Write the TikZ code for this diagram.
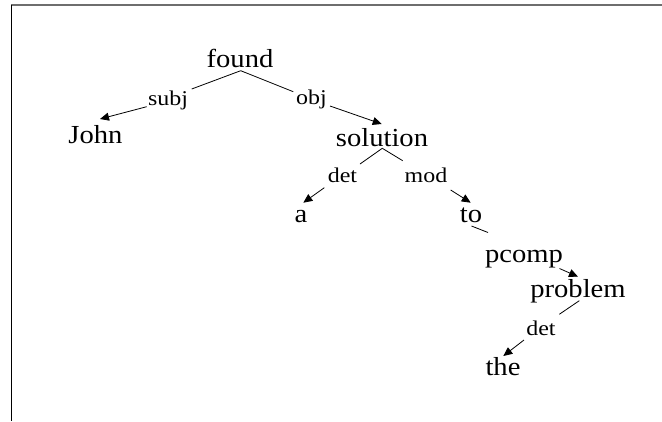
\documentclass[tikz,border=0pt]{standalone}
\usepackage{fontspec}
\newfontfamily\treefont[FakeStretch=1.1]{Liberation Serif}
\newfontfamily\relfont[FakeStretch=1.14]{Liberation Serif}
\usetikzlibrary{arrows.meta}
\definecolor{framegray}{RGB}{110,110,110}
\begin{document}
\begin{tikzpicture}[x=1pt,y=-1pt,
  word/.style={anchor=base,inner sep=0pt,font=\treefont\fontsize{26}{30}\selectfont},
  rel/.style={anchor=base,inner sep=0pt,font=\relfont\fontsize{21}{25}\selectfont},
  edge/.style={line width=0.8pt,black},
  arr/.style={edge,-{Triangle[length=9pt,width=8pt]}}]
\useasboundingbox (0,0) rectangle (662,421);
% frame
\draw[framegray,line width=1.5pt] (11,5) -- (662,5);
\draw[black,line width=1pt] (11.5,4.5) -- (11.5,421);
% words
\node[word] (found) at (240,67) {found};
\node[word] (john) at (95.5,143) {John};
\node[word] (solution) at (382,146) {solution};
\node[word] (a) at (301,222) {a};
\node[word] (to) at (471,222) {to};
\node[word] (problem) at (578,297) {problem};
\node[word] (the) at (503,375) {the};
% relation labels
\node[rel] (subj) at (168,105) {subj};
\node[rel] (obj) at (311.5,104) {obj};
\node[rel] (det1) at (342.5,182) {det};
\node[rel] (mod) at (426,182) {mod};
\node[word] (pcomp) at (524,262) {pcomp};
\node[rel] (det2) at (541,335) {det};
% connector end points
\coordinate (found-s) at (240.7,70.7);
\coordinate (subj-in) at (191.7,89);
\coordinate (subj-out) at (146.7,106.7);
\coordinate (john-t) at (100,119);
\coordinate (obj-in) at (293.3,91.7);
\coordinate (obj-out) at (330,106);
\coordinate (solution-t) at (381.7,124);
\coordinate (solution-s) at (382.3,148.3);
\coordinate (det1-in) at (360,164);
\coordinate (det1-out) at (324.3,187.7);
\coordinate (a-t) at (303.3,202.7);
\coordinate (mod-in) at (402.7,160.7);
\coordinate (mod-out) at (450.7,190);
\coordinate (to-t) at (470.7,202.7);
\coordinate (to-s) at (471.5,226);
\coordinate (pcomp-in) at (488,232.5);
\coordinate (pcomp-out) at (559.5,268.5);
\coordinate (problem-t) at (578,276.7);
\coordinate (problem-s) at (579.3,300.7);
\coordinate (det2-in) at (559.3,314.3);
\coordinate (det2-out) at (524,340);
\coordinate (the-t) at (503.3,356);
% connectors
\draw[edge] (found-s) -- (subj-in);
\draw[arr] (subj-out) -- (john-t);
\draw[edge] (found-s) -- (obj-in);
\draw[arr] (obj-out) -- (solution-t);
\draw[edge] (solution-s) -- (det1-in);
\draw[arr] (det1-out) -- (a-t);
\draw[edge] (solution-s) -- (mod-in);
\draw[arr] (mod-out) -- (to-t);
\draw[edge] (to-s) -- (pcomp-in);
\draw[arr] (pcomp-out) -- (problem-t);
\draw[edge] (problem-s) -- (det2-in);
\draw[arr] (det2-out) -- (the-t);
\end{tikzpicture}
\end{document}
